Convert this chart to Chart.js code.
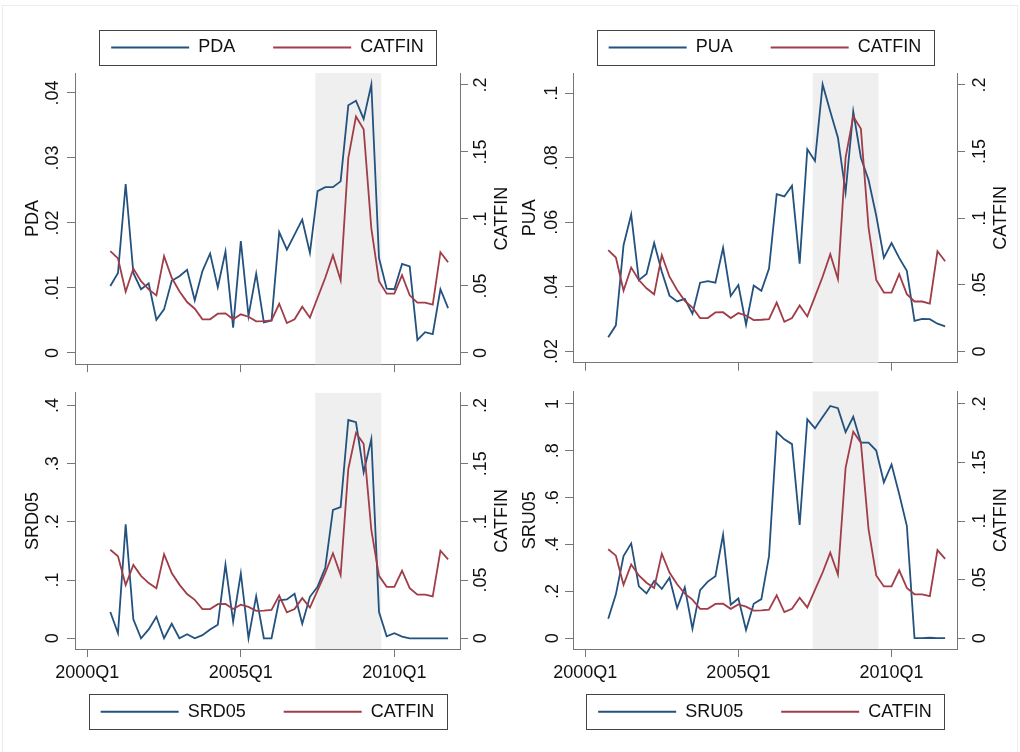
<!DOCTYPE html>
<html>
<head>
<meta charset="utf-8">
<title>PDA, PUA, SRD05, SRU05 and CATFIN</title>
<script src="https://cdn.jsdelivr.net/npm/chart.js@4.4.1/dist/chart.umd.min.js"></script>
<style>
  html, body { margin: 0; padding: 0; background: #fff; }
  #wrap { position: relative; width: 1020px; height: 752px; overflow: hidden; background: #fff; }
  #frame { position: absolute; left: 2px; top: 5px; width: 1014px; height: 780px; border: 1px solid #ececec; }
  canvas { position: absolute; }
</style>
</head>
<body>
<div id="wrap">
  <div id="frame"></div>
  <canvas id="pdaChart" width="535" height="376" style="left:0;top:0"></canvas>
  <canvas id="puaChart" width="510" height="376" style="left:510px;top:0"></canvas>
  <canvas id="srdChart" width="535" height="376" style="left:0;top:376px"></canvas>
  <canvas id="sruChart" width="510" height="376" style="left:510px;top:376px"></canvas>
</div>
<script>
// quarterly observations, 2000Q4 - 2011Q4
var quarters = [
  '2000Q4',
  '2001Q1', '2001Q2', '2001Q3', '2001Q4', '2002Q1', '2002Q2', '2002Q3', '2002Q4',
  '2003Q1', '2003Q2', '2003Q3', '2003Q4', '2004Q1', '2004Q2', '2004Q3', '2004Q4',
  '2005Q1', '2005Q2', '2005Q3', '2005Q4', '2006Q1', '2006Q2', '2006Q3', '2006Q4',
  '2007Q1', '2007Q2', '2007Q3', '2007Q4', '2008Q1', '2008Q2', '2008Q3', '2008Q4',
  '2009Q1', '2009Q2', '2009Q3', '2009Q4', '2010Q1', '2010Q2', '2010Q3', '2010Q4',
  '2011Q1', '2011Q2', '2011Q3', '2011Q4'
];

var pda = [
  0.0103, 0.0123, 0.0260, 0.0123, 0.0098, 0.0107, 0.0051, 0.0067, 0.0111, 0.0118,
  0.0128, 0.0081, 0.0126, 0.0153, 0.0101, 0.0156, 0.0039, 0.0172, 0.0057, 0.0122,
  0.0047, 0.0050, 0.0186, 0.0159, 0.0182, 0.0205, 0.0154, 0.0249, 0.0255, 0.0255,
  0.0264, 0.0381, 0.0388, 0.0360, 0.0413, 0.0146, 0.0099, 0.0098, 0.0137, 0.0133,
  0.0020, 0.0032, 0.0029, 0.0098, 0.0069
];
var pua = [
  0.0244, 0.0281, 0.0529, 0.0624, 0.0421, 0.0440, 0.0536, 0.0447, 0.0373, 0.0355,
  0.0363, 0.0317, 0.0413, 0.0418, 0.0413, 0.0521, 0.0372, 0.0406, 0.0283, 0.0404,
  0.0388, 0.0457, 0.0687, 0.0680, 0.0713, 0.0472, 0.0826, 0.0790, 0.1027, 0.0943,
  0.0862, 0.0693, 0.0943, 0.0800, 0.0731, 0.0621, 0.0490, 0.0536, 0.0490, 0.0450,
  0.0295, 0.0301, 0.0300, 0.0286, 0.0278
];
var srd05 = [
  0.0451, 0.0087, 0.1956, 0.0326, 0.0000, 0.0152, 0.0369, 0.0000, 0.0250, 0.0000,
  0.0070, 0.0000, 0.0054, 0.0152, 0.0234, 0.1266, 0.0288, 0.1114, 0.0000, 0.0723,
  0.0000, 0.0000, 0.0652, 0.0668, 0.0766, 0.0250, 0.0712, 0.0886, 0.1212, 0.2206,
  0.2255, 0.3749, 0.3711, 0.2852, 0.3423, 0.0451, 0.0033, 0.0087, 0.0030, 0.0000,
  0.0000, 0.0000, 0.0000, 0.0000, 0.0000
];
var sru05 = [
  0.0829, 0.1874, 0.3504, 0.4048, 0.2214, 0.1915, 0.2445, 0.2105, 0.2581, 0.1290,
  0.2173, 0.0407, 0.2051, 0.2418, 0.2649, 0.4415, 0.1426, 0.1698, 0.0353, 0.1467,
  0.1671, 0.3504, 0.8802, 0.8490, 0.8286, 0.4836, 0.9345, 0.8965, 0.9440, 0.9916,
  0.9821, 0.8802, 0.9454, 0.8354, 0.8354, 0.8014, 0.6656, 0.7417, 0.6153, 0.4800,
  0.0000, 0.0000, 0.0020, 0.0000, 0.0000
];
var catfin = [
  0.0760, 0.0705, 0.0457, 0.0630, 0.0536, 0.0474, 0.0429, 0.0722, 0.0561, 0.0461,
  0.0380, 0.0330, 0.0251, 0.0251, 0.0293, 0.0295, 0.0251, 0.0288, 0.0270, 0.0236,
  0.0238, 0.0243, 0.0367, 0.0223, 0.0251, 0.0345, 0.0263, 0.0412, 0.0561, 0.0730,
  0.0543, 0.1454, 0.1764, 0.1670, 0.0930, 0.0536, 0.0442, 0.0442, 0.0580, 0.0430,
  0.0375, 0.0375, 0.0360, 0.0752, 0.0677
];

// axis ticks
var xTickLabels = ['2000Q1', '2005Q1', '2010Q1'];
var pdaTicks = [0, 0.01, 0.02, 0.03, 0.04];
var pdaTickLabels = ['0', '.01', '.02', '.03', '.04'];
var puaTicks = [0.02, 0.04, 0.06, 0.08, 0.1];
var puaTickLabels = ['.02', '.04', '.06', '.08', '.1'];
var srdTicks = [0, 0.1, 0.2, 0.3, 0.4];
var srdTickLabels = ['0', '.1', '.2', '.3', '.4'];
var sruTicks = [0, 0.2, 0.4, 0.6, 0.8, 1];
var sruTickLabels = ['0', '.2', '.4', '.6', '.8', '1'];
var catfinTicks = [0, 0.05, 0.1, 0.15, 0.2];
var catfinTickLabels = ['0', '.05', '.1', '.15', '.2'];

// shaded crisis period
var shadeFrom = '2007Q3';
var shadeTo = '2009Q3';

var blue = '#23527f';
var red = '#a03d48';
var axisGrey = '#767676';
var textColor = '#111';

Chart.defaults.font.family = '"Liberation Sans", Arial, Helvetica, sans-serif';
Chart.defaults.font.size = 18;
Chart.defaults.color = textColor;

// quarters counted from 2000Q1
function qIndex(q) {
  return (parseInt(q.slice(0, 4), 10) - 2000) * 4 + parseInt(q.slice(5), 10) - 1;
}
function points(vals) {
  return vals.map(function (v, i) { return { x: qIndex(quarters[i]), y: v }; });
}

var recessionShade = {
  id: 'recessionShade',
  beforeDatasetsDraw: function (chart) {
    var x = chart.scales.x, a = chart.chartArea, ctx = chart.ctx;
    var x0 = x.getPixelForValue(qIndex(shadeFrom) - 0.3);
    var x1 = x.getPixelForValue(qIndex(shadeTo) + 0.3);
    ctx.save();
    ctx.fillStyle = '#efefef';
    ctx.fillRect(x0, a.top, x1 - x0, a.bottom - a.top);
    ctx.restore();
  }
};

// stata style boxed legend; shift moves it up a little after layout
var legendFrame = {
  id: 'legendFrame',
  afterLayout: function (chart, args, opts) {
    var lg = chart.legend;
    lg.top += opts.shift;
    lg.bottom += opts.shift;
  },
  afterDraw: function (chart) {
    var boxes = chart.legend.legendHitBoxes, ctx = chart.ctx;
    var left = Math.min.apply(null, boxes.map(function (b) { return b.left; }));
    var right = Math.max.apply(null, boxes.map(function (b) { return b.left + b.width; }));
    var mid = boxes[0].top + boxes[0].height / 2;
    ctx.save();
    ctx.strokeStyle = '#444';
    ctx.lineWidth = 1;
    ctx.strokeRect(Math.round(left - 12) + 0.5, Math.round(mid - 17.5) + 0.5,
                   Math.round(right - left + 24), 35);
    ctx.restore();
  }
};

// right axis title reads bottom to top, like the left one
var rightTitle = {
  id: 'rightTitle',
  afterDraw: function (chart, args, opts) {
    var a = chart.chartArea, ctx = chart.ctx;
    ctx.save();
    ctx.translate(a.right + opts.offset, (a.top + a.bottom) / 2);
    ctx.rotate(-Math.PI / 2);
    ctx.font = '18px "Liberation Sans", Arial, sans-serif';
    ctx.fillStyle = textColor;
    ctx.textAlign = 'center';
    ctx.textBaseline = 'middle';
    ctx.fillText(opts.text, 0, 0);
    ctx.restore();
  }
};

function yAxis(pos, min, max, ticks, labels, pad, width, title, titlePad) {
  return {
    position: pos,
    min: min,
    max: max,
    border: { display: true, color: axisGrey, width: 1 },
    grid: { drawOnChartArea: false, drawTicks: true, tickLength: 8, color: axisGrey },
    ticks: {
      minRotation: 90, maxRotation: 90, crossAlign: 'center', padding: pad,
      autoSkip: false, color: textColor,
      callback: function (v, i) { return labels[i]; }
    },
    title: title ? { display: true, text: title, color: textColor, padding: { top: titlePad, bottom: 0 } } : { display: false },
    afterBuildTicks: function (s) { s.ticks = ticks.map(function (v) { return { value: v }; }); },
    afterFit: function (s) { s.width = width; }
  };
}

function makePanel(id, p) {
  new Chart(document.getElementById(id), {
    type: 'line',
    data: {
      datasets: [
        { label: p.name, data: points(p.values), yAxisID: 'y', borderColor: blue, backgroundColor: blue, order: 1 },
        { label: 'CATFIN', data: points(catfin), yAxisID: 'y1', borderColor: red, backgroundColor: red, order: 0 }
      ]
    },
    options: {
      responsive: false,
      animation: false,
      layout: { padding: p.pad },
      elements: { point: { radius: 0 }, line: { borderWidth: 1.8, tension: 0 } },
      plugins: {
        legend: {
          position: p.legend,
          labels: {
            boxWidth: 78, boxHeight: 2, padding: 38, color: textColor,
            sort: function (a, b) { return a.datasetIndex - b.datasetIndex; },
            generateLabels: function (chart) {
              var items = Chart.defaults.plugins.legend.labels.generateLabels(chart);
              items.forEach(function (it) { it.lineWidth = 0; it.fillStyle = it.strokeStyle; });
              return items;
            }
          }
        },
        tooltip: { enabled: false },
        legendFrame: { shift: p.legendShift },
        rightTitle: { text: 'CATFIN', offset: p.rightTitleOffset }
      },
      scales: {
        x: {
          type: 'linear',
          min: -1.6,
          max: 48.55,
          border: { display: true, color: axisGrey, width: 1 },
          grid: { drawOnChartArea: false, drawTicks: true, tickLength: 8, color: axisGrey },
          ticks: {
            display: p.xLabels, padding: 5, maxRotation: 0, autoSkip: false, color: textColor,
            callback: function (v, i) { return xTickLabels[i]; }
          },
          afterBuildTicks: function (s) {
            s.ticks = xTickLabels.map(function (t) { return { value: qIndex(t) }; });
          },
          afterFit: function (s) { s.height = p.xHeight; }
        },
        y: yAxis('left', p.yMin, p.yMax, p.ticks, p.tickLabels, p.yPad, p.leftW, p.name, p.titlePad),
        y1: yAxis('right', p.cMin, p.cMax, catfinTicks, catfinTickLabels, p.cPad, p.rightW, null, 0)
      }
    },
    plugins: [recessionShade, legendFrame, rightTitle]
  });
}

makePanel('pdaChart', {
  name: 'PDA', values: pda, ticks: pdaTicks, tickLabels: pdaTickLabels,
  yMin: -0.00173, yMax: 0.04307, cMin: -0.00841, cMax: 0.20893,
  legend: 'top', legendShift: -6.5, xLabels: false, xHeight: 11,
  pad: { top: 7, left: 0, right: 0, bottom: 0 },
  leftW: 75, rightW: 75, yPad: 1, cPad: 1, titlePad: 22, rightTitleOffset: 42
});
makePanel('puaChart', {
  name: 'PUA', values: pua, ticks: puaTicks, tickLabels: puaTickLabels,
  yMin: 0.016528, yMax: 0.106237, cMin: -0.00841, cMax: 0.20893,
  legend: 'top', legendShift: -6.5, xLabels: false, xHeight: 11,
  pad: { top: 7, left: 0, right: 0, bottom: 0 },
  leftW: 63, rightW: 63, yPad: 0, cPad: 2.5, titlePad: 9, rightTitleOffset: 44.5
});
makePanel('srdChart', {
  name: 'SRD05', values: srd05, ticks: srdTicks, tickLabels: srdTickLabels,
  yMin: -0.01842, yMax: 0.42168, cMin: -0.00921, cMax: 0.21084,
  legend: 'bottom', legendShift: -19.3, xLabels: true, xHeight: 35,
  pad: { top: 3, left: 0, right: 0, bottom: 2 },
  leftW: 75, rightW: 75, yPad: 6, cPad: 1, titlePad: 22, rightTitleOffset: 42
});
makePanel('sruChart', {
  name: 'SRU05', values: sru05, ticks: sruTicks, tickLabels: sruTickLabels,
  yMin: -0.04605, yMax: 1.0542, cMin: -0.00921, cMax: 0.21084,
  legend: 'bottom', legendShift: -19.3, xLabels: true, xHeight: 35,
  pad: { top: 3, left: 0, right: 0, bottom: 2 },
  leftW: 63, rightW: 63, yPad: 4.5, cPad: 2.5, titlePad: 9, rightTitleOffset: 44
});
</script>
</body>
</html>
